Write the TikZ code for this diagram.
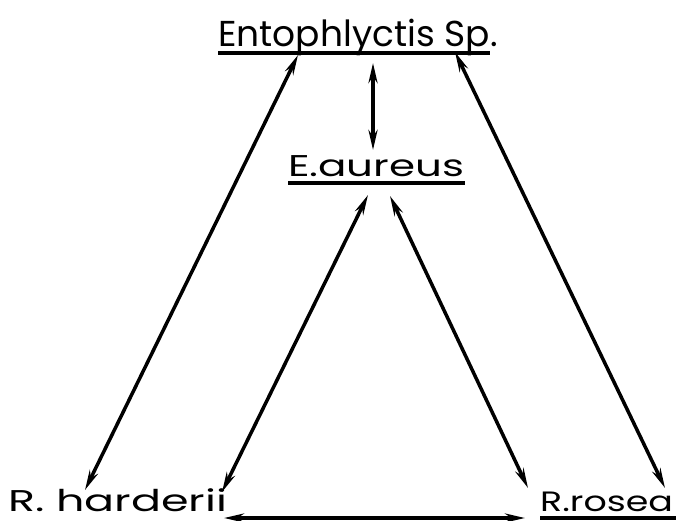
\documentclass[tikz,border=0pt]{standalone}
\usepackage{fontspec}
\setmainfont{Poppins}
\usetikzlibrary{arrows.meta,calc}
\begin{document}
\begin{tikzpicture}[x=1pt,y=-1pt,
  lab/.style={inner sep=0pt,anchor=base west},
  link/.style={line width=3.5pt,{Stealth[length=20pt,width=9pt]}-{Stealth[length=20pt,width=9pt]}},
  uline/.style={line width=3.2pt}]
\useasboundingbox (0,0) rectangle (676,521);
\node[lab] (ent) at (218,47) {\fontsize{36}{38}\selectfont Entophlyctis Sp.};
\node[lab] (aur) at (288,177) {\scalebox{1.4}[1]{\fontsize{30}{32}\selectfont E.aureus}};
\node[lab] (har) at (8,511) {\scalebox{1.48}[1]{\fontsize{30}{32}\selectfont R. harderii}};
\node[lab] (ros) at (540,511) {\scalebox{1.3}[1]{\fontsize{28}{30}\selectfont R.rosea}};
\draw[uline] (218,53) -- (490,53);
\draw[uline] (288,183) -- (465,183);
\draw[uline] (540,518) -- (676,518);
\coordinate (et1) at (298,55); \coordinate (eb1) at (85,490);
\coordinate (et2) at (373,63); \coordinate (eb2) at (373,150);
\coordinate (et3) at (455,52); \coordinate (eb3) at (665,488);
\coordinate (at1) at (368,195); \coordinate (ab1) at (222,492);
\coordinate (at2) at (390,196); \coordinate (ab2) at (528,488);
\coordinate (hr) at (224,518); \coordinate (rl) at (525,518);
\draw[link] (et1) -- (eb1);
\draw[link] (et2) -- (eb2);
\draw[link] (et3) -- (eb3);
\draw[link] (at1) -- (ab1);
\draw[link] (at2) -- (ab2);
\draw[link] (hr) -- (rl);
\end{tikzpicture}
\end{document}
